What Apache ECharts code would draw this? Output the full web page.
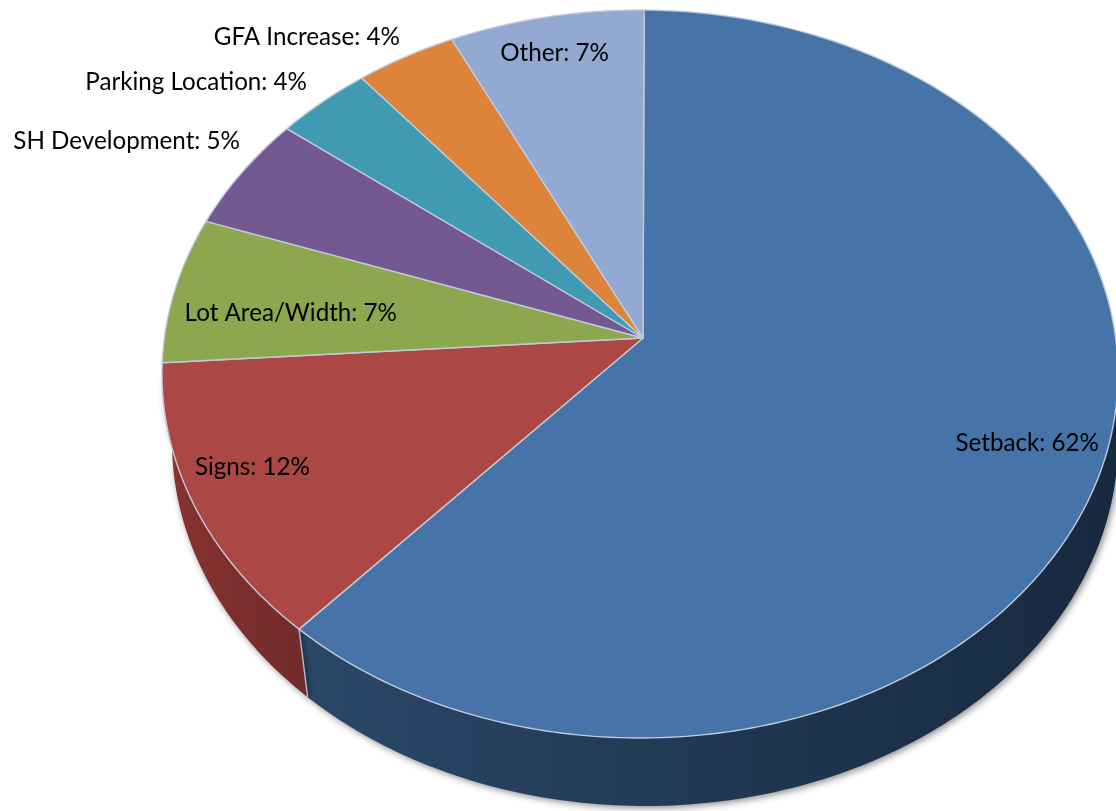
<!DOCTYPE html>
<html>
<head>
<meta charset="utf-8">
<style>html,body{margin:0;padding:0;background:#fff}#c{width:1116px;height:811px}</style>
<script src="https://cdn.jsdelivr.net/npm/echarts@6/dist/echarts.min.js"></script>
</head>
<body>
<div id="c"></div>
<script>
// Category names and the percentages printed on the labels
var categories = ['Setback','Signs','Lot Area/Width','SH Development','Parking Location','GFA Increase','Other'];
var labelPercents = [62,12,7,5,4,4,7];
var shares = [62.5,12.85,6.4,4.88,3.34,3.45,6.58];

// Styles and layout, separate from the data
var topColors = ['#4674a8','#ab4744','#8ca74e','#73598f','#3f9ab2','#dd843a','#92a9d1'];
var wallColors = [['#2a4868','#17293f'],['#8a3230','#702b29'],null,null,null,null,null];
var labelBoxes = [
  {x:1099,y:443,align:'right'},{x:310,y:467,align:'right'},{x:397,y:313,align:'right'},
  {x:240,y:141,align:'right'},{x:307,y:82,align:'right'},{x:400,y:37,align:'right'},{x:609,y:53,align:'right'}
];
var rim = {cx:640,cy:374,rx:478,ry:364,startDeg:0.5};
var base = {cx:645,cy:442,rx:473,ry:364};
var apex = [643,338];
var total = shares.reduce(function(a,b){return a+b;},0);

function pt(e,deg){
  var r = deg*Math.PI/180;
  return [e.cx+e.rx*Math.sin(r), e.cy-e.ry*Math.cos(r)];
}
function arc(e,a,b){
  var out=[], n=Math.max(2,Math.ceil(Math.abs(b-a)));
  for(var i=0;i<=n;i++) out.push(pt(e,a+(b-a)*i/n));
  return out;
}
function bounds(i){
  var s=0; for(var k=0;k<i;k++) s+=shares[k];
  return [rim.startDeg+s/total*360, rim.startDeg+(s+shares[i])/total*360];
}
var rows = categories.map(function(c,i){return [i,shares[i]];});

var chart = echarts.init(document.getElementById('c'),null,{renderer:'canvas'});
chart.setOption({
  animation:false,
  backgroundColor:'#fff',
  xAxis:{show:false}, yAxis:{show:false},
  series:[
    {
      type:'custom', coordinateSystem:'none', silent:true, z:1, data:rows,
      renderItem:function(p,api){
        var i=api.value(0), w=wallColors[i];
        if(!w) return {type:'group',children:[]};
        var b=bounds(i), a0=Math.max(b[0],90), a1=Math.min(b[1],270);
        var pts=arc(rim,a0,a1).concat(arc(base,a1,a0));
        return {type:'polygon',shape:{points:pts},style:{
          fill:new echarts.graphic.LinearGradient(1,0,0,0,[{offset:0,color:w[1]},{offset:1,color:w[0]}]),
          shadowBlur:7,shadowColor:'rgba(0,0,0,0.45)',shadowOffsetX:2,shadowOffsetY:2
        }};
      }
    },
    {
      type:'custom', coordinateSystem:'none', silent:true, z:2, data:rows,
      renderItem:function(p,api){
        var i=api.value(0), b=bounds(i);
        var pts=[apex].concat(arc(rim,b[0],b[1]));
        var ch=[{type:'polygon',shape:{points:pts},style:{fill:topColors[i],stroke:'#c0cad8',lineWidth:1.4,lineJoin:'round'}}];
        if(i===0){
          var s=pt(rim,b[1]), e=pt(base,b[1]);
          ch.push({type:'line',shape:{x1:s[0],y1:s[1],x2:e[0],y2:e[1]},style:{stroke:'#b4bdc9',lineWidth:1.4}});
        }
        return {type:'group',children:ch};
      }
    },
    {
      type:'custom', coordinateSystem:'none', silent:true, z:3, data:rows,
      renderItem:function(p,api){
        var i=api.value(0), l=labelBoxes[i];
        return {type:'text',style:{
          x:l.x,y:l.y,text:categories[i]+': '+labelPercents[i]+'%',
          fill:'#000',font:'24.2px Lato',align:l.align,verticalAlign:'middle'
        }};
      }
    }
  ]
});
</script>
</body>
</html>
